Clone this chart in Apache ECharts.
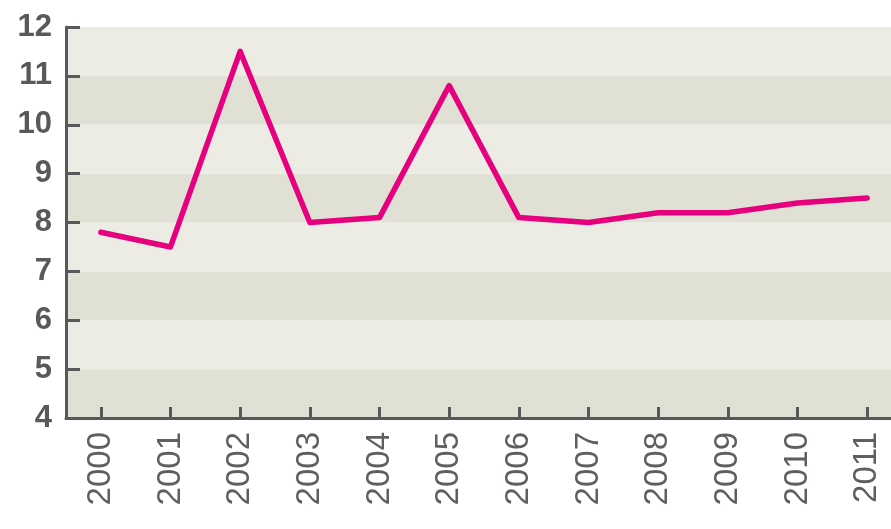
<!DOCTYPE html>
<html>
<head>
<meta charset="utf-8">
<script src="https://cdn.jsdelivr.net/npm/echarts@6/dist/echarts.min.js"></script>
<style>html,body{margin:0;padding:0;background:#fff;overflow:hidden;width:891px;height:529px}#c{width:902px;height:529px}</style>
</head>
<body>
<div id="c"></div>
<script>
const categories = ['2000','2001','2002','2003','2004','2005','2006','2007','2008','2009','2010','2011'];
const values = [7.8, 7.5, 11.5, 8.0, 8.1, 10.8, 8.1, 8.0, 8.2, 8.2, 8.4, 8.5];
const yTicks = [4, 5, 6, 7, 8, 9, 10, 11, 12];

const chart = echarts.init(document.getElementById('c'), null, {renderer: 'canvas'});
const axisColor = '#58595b';
chart.setOption({
  animation: false,
  backgroundColor: '#ffffff',
  grid: {left: 66, right: 0, top: 27, bottom: 111, containLabel: false},
  xAxis: {
    type: 'category',
    data: categories,
    boundaryGap: true,
    axisLine: {show: true, lineStyle: {color: axisColor, width: 3}},
    axisTick: {show: true, inside: true, alignWithLabel: true, length: 11, lineStyle: {color: axisColor, width: 3}},
    axisLabel: {rotate: 90, margin: 14, color: '#5e5f61', fontFamily: 'Liberation Sans, Arial, sans-serif', fontSize: 33, interval: 0},
    splitLine: {show: false}
  },
  yAxis: {
    type: 'value',
    min: yTicks[0],
    max: yTicks[yTicks.length - 1],
    interval: 1,
    axisLine: {show: true, lineStyle: {color: axisColor, width: 3}},
    axisTick: {show: true, inside: true, length: 14, lineStyle: {color: axisColor, width: 3}},
    axisLabel: {margin: 14, color: '#58595b', fontFamily: 'Liberation Sans, Arial, sans-serif', fontSize: 31, fontWeight: 'bold'},
    splitLine: {show: false},
    splitArea: {show: true, areaStyle: {color: ['#e1e0d5', '#ecebe4']}}
  },
  series: [{
    type: 'line',
    data: values,
    symbol: 'none',
    smooth: false,
    lineStyle: {color: '#e6007e', width: 5.5, cap: 'round', join: 'round'}
  }]
});
</script>
</body>
</html>
